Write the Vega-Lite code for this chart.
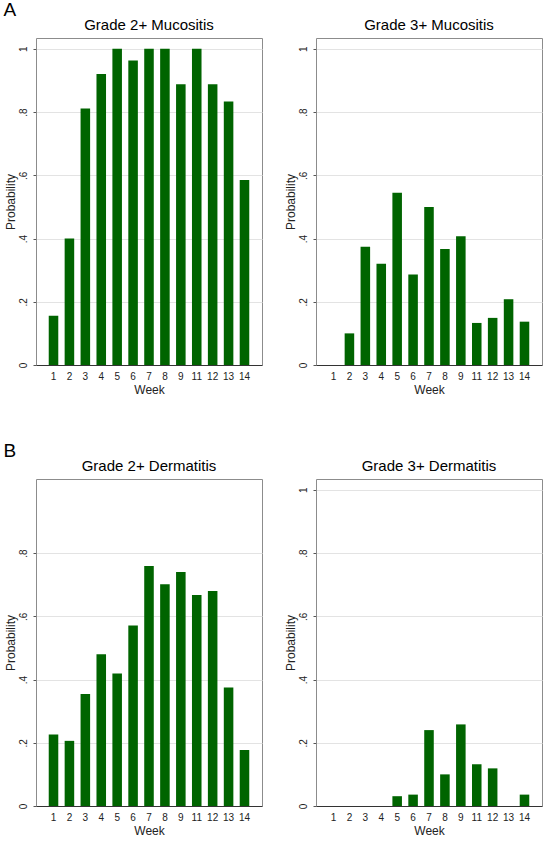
{
  "$schema": "https://vega.github.io/schema/vega-lite/v6.json",
  "padding": {"left": 3, "top": 0, "right": 3, "bottom": 3},
  "background": "white",
  "datasets": {
    "tox": [
      {"panel": "m2", "week": 1, "p": 0.156}, {"panel": "m2", "week": 2, "p": 0.400}, {"panel": "m2", "week": 3, "p": 0.811},
      {"panel": "m2", "week": 4, "p": 0.920}, {"panel": "m2", "week": 5, "p": 1.0}, {"panel": "m2", "week": 6, "p": 0.963},
      {"panel": "m2", "week": 7, "p": 1.0}, {"panel": "m2", "week": 8, "p": 1.0}, {"panel": "m2", "week": 9, "p": 0.888},
      {"panel": "m2", "week": 11, "p": 1.0}, {"panel": "m2", "week": 12, "p": 0.888}, {"panel": "m2", "week": 13, "p": 0.833},
      {"panel": "m2", "week": 14, "p": 0.585},
      {"panel": "m3", "week": 1, "p": 0.0}, {"panel": "m3", "week": 2, "p": 0.100}, {"panel": "m3", "week": 3, "p": 0.374},
      {"panel": "m3", "week": 4, "p": 0.320}, {"panel": "m3", "week": 5, "p": 0.545}, {"panel": "m3", "week": 6, "p": 0.286},
      {"panel": "m3", "week": 7, "p": 0.500}, {"panel": "m3", "week": 8, "p": 0.367}, {"panel": "m3", "week": 9, "p": 0.407},
      {"panel": "m3", "week": 11, "p": 0.133}, {"panel": "m3", "week": 12, "p": 0.149}, {"panel": "m3", "week": 13, "p": 0.208},
      {"panel": "m3", "week": 14, "p": 0.137},
      {"panel": "d2", "week": 1, "p": 0.226}, {"panel": "d2", "week": 2, "p": 0.206}, {"panel": "d2", "week": 3, "p": 0.354},
      {"panel": "d2", "week": 4, "p": 0.480}, {"panel": "d2", "week": 5, "p": 0.419}, {"panel": "d2", "week": 6, "p": 0.571},
      {"panel": "d2", "week": 7, "p": 0.759}, {"panel": "d2", "week": 8, "p": 0.701}, {"panel": "d2", "week": 9, "p": 0.740},
      {"panel": "d2", "week": 11, "p": 0.667}, {"panel": "d2", "week": 12, "p": 0.680}, {"panel": "d2", "week": 13, "p": 0.375},
      {"panel": "d2", "week": 14, "p": 0.177},
      {"panel": "d3", "week": 1, "p": 0.0}, {"panel": "d3", "week": 2, "p": 0.0}, {"panel": "d3", "week": 3, "p": 0.0},
      {"panel": "d3", "week": 4, "p": 0.0}, {"panel": "d3", "week": 5, "p": 0.031}, {"panel": "d3", "week": 6, "p": 0.036},
      {"panel": "d3", "week": 7, "p": 0.240}, {"panel": "d3", "week": 8, "p": 0.100}, {"panel": "d3", "week": 9, "p": 0.258},
      {"panel": "d3", "week": 11, "p": 0.132}, {"panel": "d3", "week": 12, "p": 0.119}, {"panel": "d3", "week": 13, "p": 0.0},
      {"panel": "d3", "week": 14, "p": 0.036}
    ]
  },
  "vconcat": [
    {
      "title": {"text": "A", "anchor": "start", "frame": "bounds", "fontSize": 19, "offset": -2},
      "bounds": "flush",
      "spacing": 54,
      "hconcat": [
        {
          "title": "Grade 2+ Mucositis",
          "width": 226, "height": 327,
          "data": {"name": "tox"},
          "transform": [{"filter": "datum.panel === 'm2'"}],
          "mark": {"type": "bar", "color": "#006400"},
          "encoding": {
            "x": {"field": "week", "type": "ordinal", "title": "Week", "scale": {"paddingInner": 0.4, "paddingOuter": 0.8}},
            "y": {"field": "p", "type": "quantitative", "title": "Probability", "scale": {"domain": [0, 1.034], "nice": false}, "axis": {"values": [0, 0.2, 0.4, 0.6, 0.8, 1]}}
          }
        },
        {
          "title": "Grade 3+ Mucositis",
          "width": 226, "height": 327,
          "data": {"name": "tox"},
          "transform": [{"filter": "datum.panel === 'm3'"}],
          "mark": {"type": "bar", "color": "#006400"},
          "encoding": {
            "x": {"field": "week", "type": "ordinal", "title": "Week", "scale": {"paddingInner": 0.4, "paddingOuter": 0.8}},
            "y": {"field": "p", "type": "quantitative", "title": "Probability", "scale": {"domain": [0, 1.034], "nice": false}, "axis": {"values": [0, 0.2, 0.4, 0.6, 0.8, 1]}}
          }
        }
      ]
    },
    {
      "title": {"text": "B", "anchor": "start", "frame": "bounds", "fontSize": 19, "offset": -2},
      "bounds": "flush",
      "spacing": 54,
      "hconcat": [
        {
          "title": "Grade 2+ Dermatitis",
          "width": 226, "height": 327,
          "data": {"name": "tox"},
          "transform": [{"filter": "datum.panel === 'd2'"}],
          "mark": {"type": "bar", "color": "#006400"},
          "encoding": {
            "x": {"field": "week", "type": "ordinal", "title": "Week", "scale": {"paddingInner": 0.4, "paddingOuter": 0.8}},
            "y": {"field": "p", "type": "quantitative", "title": "Probability", "scale": {"domain": [0, 1.034], "nice": false}, "axis": {"values": [0, 0.2, 0.4, 0.6, 0.8]}}
          }
        },
        {
          "title": "Grade 3+ Dermatitis",
          "width": 226, "height": 327,
          "data": {"name": "tox"},
          "transform": [{"filter": "datum.panel === 'd3'"}],
          "mark": {"type": "bar", "color": "#006400"},
          "encoding": {
            "x": {"field": "week", "type": "ordinal", "title": "Week", "scale": {"paddingInner": 0.4, "paddingOuter": 0.8}},
            "y": {"field": "p", "type": "quantitative", "title": "Probability", "scale": {"domain": [0, 1.034], "nice": false}, "axis": {"values": [0, 0.2, 0.4, 0.6, 0.8, 1]}}
          }
        }
      ]
    }
  ],
  "spacing": 45,
  "config": {
    "font": "Liberation Sans",
    "view": {"stroke": "#8c8c8c", "strokeWidth": 1},
    "title": {"fontSize": 15, "fontWeight": "normal", "color": "#000000", "offset": 5},
    "style": {"group-title": {"fontWeight": "normal", "fontSize": 15}},
    "axisX": {
      "labelAngle": 0, "labelFontSize": 10, "labelColor": "#222222", "labelPadding": 6,
      "ticks": false, "domainColor": "#333333", "grid": false,
      "titleFontSize": 12, "titleFontWeight": "normal", "titleColor": "#222222", "titlePadding": 3
    },
    "axisY": {
      "labelAngle": -90, "labelAlign": "center", "labelBaseline": "bottom", "labelFontSize": 10, "labelColor": "#222222", "labelPadding": 5,
      "labelExpr": "datum.value == 0 ? '0' : datum.value == 1 ? '1' : replace(format(datum.value, '.1f'), '0.', '.')",
      "tickSize": 3, "tickColor": "#555555", "domain": false,
      "grid": true, "gridColor": "#e3e3e3",
      "titleFontSize": 12, "titleFontWeight": "normal", "titleColor": "#222222", "titlePadding": 1
    }
  }
}
